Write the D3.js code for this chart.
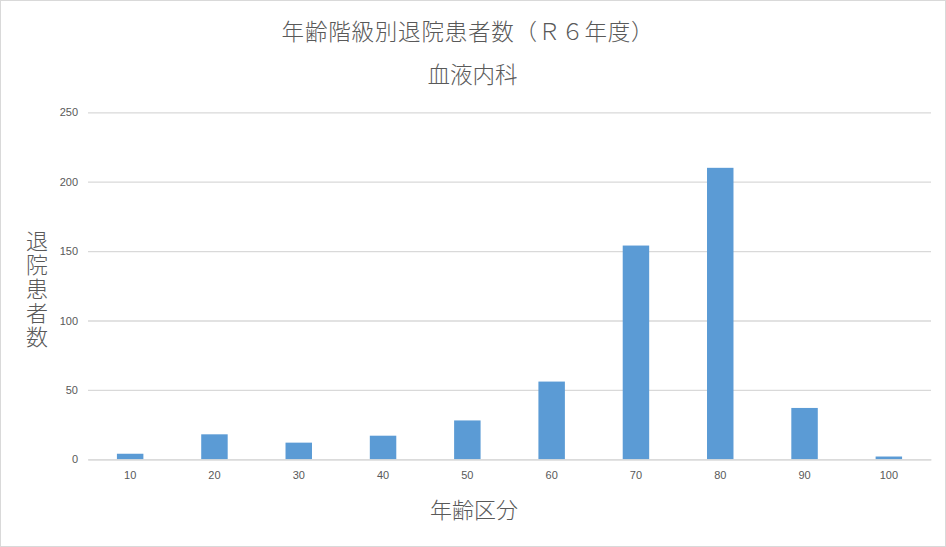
<!DOCTYPE html>
<html><head><meta charset="utf-8">
<script src="https://cdn.jsdelivr.net/npm/d3@7"></script>
<style>
html,body{margin:0;padding:0;background:#fff;}
svg text{font-family:"Noto Sans CJK JP","Noto Sans",sans-serif;}
</style></head>
<body><svg id="c" width="946" height="547"></svg>
<script>
const categories = ["10","20","30","40","50","60","70","80","90","100"];
const values = [4,18,12,17,28,56,154,210,37,2];
const yTicks = [0,50,100,150,200,250];
const title = "年齢階級別退院患者数（Ｒ６年度）";
const subtitle = "血液内科";
const yTitle = "退院患者数";
const xTitle = "年齢区分";

const svg = d3.select("#c");
const W = 946, H = 547;
const m = {left:88, right:15, top:112.3, bottom:87.7};
svg.append("rect").attr("x",0.5).attr("y",0.5).attr("width",W-1).attr("height",H-1)
  .attr("fill","#fff").attr("stroke","#d9d9d9");

const x = d3.scaleBand().domain(categories).range([m.left, W-m.right]).paddingInner(0.686).paddingOuter(0.343);
const y = d3.scaleLinear().domain([0,250]).range([H-m.bottom, m.top]);

const gy = svg.append("g").attr("transform",`translate(${m.left},0)`)
  .call(d3.axisLeft(y).tickValues(yTicks).tickSize(-(W-m.left-m.right)).tickPadding(10));
gy.select(".domain").remove();
gy.selectAll(".tick line").attr("stroke","#d9d9d9").attr("stroke-width",1.3);
gy.selectAll(".tick text").attr("fill","#595959").attr("font-size","11px")
  .style("font-family","'Liberation Sans','Noto Sans',sans-serif");

svg.append("g").selectAll("rect").data(values).join("rect")
  .attr("x",(d,i)=>x(categories[i])).attr("width",x.bandwidth())
  .attr("y",d=>y(d)).attr("height",d=>y(0)-y(d)).attr("fill","#5b9bd5");

const gx = svg.append("g").attr("transform",`translate(0,${y(0)})`)
  .call(d3.axisBottom(x).tickSize(0).tickPadding(12));
gx.select(".domain").attr("stroke","#d9d9d9").attr("stroke-width",1.3);
gx.selectAll(".tick text").attr("fill","#595959").attr("font-size","11px")
  .style("font-family","'Liberation Sans','Noto Sans',sans-serif");

svg.append("text").attr("x",468).attr("y",39.5).attr("text-anchor","middle")
  .attr("font-size","22.5px").attr("font-weight",300).attr("letter-spacing","0.8px")
  .attr("fill","#595959").text(title);
svg.append("text").attr("x",472.5).attr("y",82.5).attr("text-anchor","middle")
  .attr("font-size","22.5px").attr("font-weight",300).attr("fill","#595959").text(subtitle);

svg.append("text").attr("x",37).attr("y",289.5).attr("text-anchor","middle")
  .style("writing-mode","vertical-rl").style("text-orientation","upright")
  .attr("font-size","22px").attr("font-weight",300).attr("letter-spacing","1.8px")
  .attr("fill","#595959").text(yTitle);
svg.append("text").attr("x",474).attr("y",518).attr("text-anchor","middle")
  .attr("font-size","22px").attr("font-weight",300).attr("fill","#595959").text(xTitle);
</script></body></html>
